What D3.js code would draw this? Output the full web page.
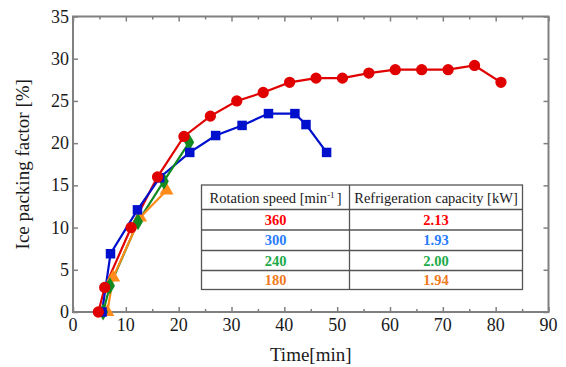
<!DOCTYPE html>
<html>
<head>
<meta charset="utf-8">
<script src="https://cdn.jsdelivr.net/npm/d3@7"></script>
<style>
  body { margin: 0; background: #fff; }
  svg { display: block; }
  svg text { font-family: "Liberation Serif", "Times New Roman", "DejaVu Serif", serif; }
</style>
</head>
<body>
<svg id="chart" width="566" height="367"></svg>
<script>
// data
const red360 = [[4.8,0],[6,2.9],[11,10],[16,16],[21,20.8],[26,23.2],[31,25],[36,26],[41,27.2],[46,27.7],[51,27.7],[56,28.3],[61,28.7],[66,28.7],[71,28.7],[76,29.2],[81,27.2]];
const blue300 = [[5.5,0],[7.1,6.9],[12.2,12.1],[16.4,15.9],[22.1,18.9],[27,20.9],[32,22.1],[37,23.5],[42,23.5],[44.1,22.2],[48,18.9]];
const green240 = [[5.7,0],[7,3.1],[12.3,10.7],[17.2,15.5],[22,20.1]];
const orange180 = [[6.5,0],[7.6,4.1],[12.7,11.2],[17.7,14.4]];

const speeds = ['360', '300', '240', '180'];
const capacities = ['2.13', '1.93', '2.00', '1.94'];
const xTicks = [0, 10, 20, 30, 40, 50, 60, 70, 80, 90];
const yTicks = [0, 5, 10, 15, 20, 25, 30, 35];

const series = [
  { data: red360, color: '#e00000', shape: d3.symbolCircle, size: 100 },
  { data: blue300, color: '#0010cc', shape: d3.symbolSquare, size: 90 },
  { data: green240, color: '#118a22', shape: d3.symbolDiamond, size: 85 },
  { data: orange180, color: '#ff8c1a', shape: d3.symbolTriangle, size: 85 }
];
const textColors = ['#ff0000', '#2a7cff', '#1caa4a', '#f07a1e'];

const svg = d3.select('#chart');
const plotL = 73, plotR = 548.5, plotT = 16.5, plotB = 312;

const x = d3.scaleLinear().domain([0, 90]).range([plotL, plotR]);
const y = d3.scaleLinear().domain([0, 35]).range([plotB, plotT]);

const frameColor = '#808080';

// ticks (inward)
const minorX = d3.range(5, 90, 10);
svg.append('g').attr('transform', `translate(0,${plotB})`)
  .call(d3.axisBottom(x).tickValues(xTicks).tickSize(-5).tickFormat(''))
  .call(g => g.select('.domain').remove());
svg.append('g').attr('transform', `translate(0,${plotB})`)
  .call(d3.axisBottom(x).tickValues(minorX).tickSize(-3).tickFormat(''))
  .call(g => g.select('.domain').remove());
svg.append('g').attr('transform', `translate(0,${plotT})`)
  .call(d3.axisTop(x).tickValues(xTicks).tickSize(-5).tickFormat(''))
  .call(g => g.select('.domain').remove());
svg.append('g').attr('transform', `translate(0,${plotT})`)
  .call(d3.axisTop(x).tickValues(minorX).tickSize(-3).tickFormat(''))
  .call(g => g.select('.domain').remove());
svg.append('g').attr('transform', `translate(${plotL},0)`)
  .call(d3.axisLeft(y).tickValues(yTicks).tickSize(-5).tickFormat(''))
  .call(g => g.select('.domain').remove());
svg.append('g').attr('transform', `translate(${plotR},0)`)
  .call(d3.axisRight(y).tickValues(yTicks).tickSize(-5).tickFormat(''))
  .call(g => g.select('.domain').remove());
svg.selectAll('.tick line').attr('stroke', frameColor).attr('stroke-width', 1.5);

// frame
svg.append('rect')
  .attr('x', plotL).attr('y', plotT)
  .attr('width', plotR - plotL).attr('height', plotB - plotT)
  .attr('fill', 'none').attr('stroke', frameColor).attr('stroke-width', 2);

// tick labels
svg.append('g').selectAll('text').data(xTicks).join('text')
  .attr('x', d => x(d)).attr('y', plotB + 19)
  .attr('text-anchor', 'middle').attr('font-size', 18).attr('fill', '#1a1a1a')
  .text(d => d);
svg.append('g').selectAll('text').data(yTicks).join('text')
  .attr('x', plotL - 4).attr('y', d => y(d) + 6)
  .attr('text-anchor', 'end').attr('font-size', 18).attr('fill', '#1a1a1a')
  .text(d => d);

// axis titles
svg.append('text')
  .attr('x', (plotL + plotR) / 2).attr('y', 361)
  .attr('text-anchor', 'middle').attr('font-size', 19).attr('fill', '#1a1a1a')
  .text('Time[min]');
svg.append('text')
  .attr('transform', `translate(29,${(plotT + plotB) / 2}) rotate(-90)`)
  .attr('text-anchor', 'middle').attr('font-size', 19).attr('fill', '#1a1a1a')
  .text('Ice packing factor [%]');

// lines and markers
const line = d3.line().x(d => x(d[0])).y(d => y(d[1]));
series.forEach(s => {
  svg.append('path').datum(s.data)
    .attr('d', line).attr('fill', 'none')
    .attr('stroke', s.color).attr('stroke-width', 2.2);
});
series.slice().reverse().forEach(s => {
  svg.append('g').selectAll('path').data(s.data).join('path')
    .attr('transform', d => `translate(${x(d[0])},${y(d[1])})`)
    .attr('d', d3.symbol().type(s.shape).size(s.size))
    .attr('fill', s.color);
});

// table
const tLeft = 201.5, tRight = 522.5, tMid = 349.5;
const rowsY = [185, 209.5, 230, 250.5, 270.5, 289.5];
const table = svg.append('g');
table.append('rect')
  .attr('x', tLeft).attr('y', rowsY[0])
  .attr('width', tRight - tLeft).attr('height', rowsY[5] - rowsY[0])
  .attr('fill', '#fff').attr('stroke', '#555').attr('stroke-width', 1.3);
table.selectAll('line.row').data(rowsY.slice(1, 5)).join('line')
  .attr('x1', tLeft).attr('x2', tRight).attr('y1', d => d).attr('y2', d => d)
  .attr('stroke', '#555').attr('stroke-width', 1.3);
table.append('line')
  .attr('x1', tMid).attr('x2', tMid).attr('y1', rowsY[0]).attr('y2', rowsY[5])
  .attr('stroke', '#555').attr('stroke-width', 1.3);

const h1 = table.append('text')
  .attr('x', (tLeft + tMid) / 2).attr('y', 203)
  .attr('text-anchor', 'middle').attr('font-size', 14.5).attr('fill', '#1a1a1a');
h1.append('tspan').text('Rotation speed [min');
h1.append('tspan').attr('dy', -5).attr('font-size', 9).text('-1');
h1.append('tspan').attr('dx', 2).attr('dy', 5).text(']');
table.append('text')
  .attr('x', (tMid + tRight) / 2).attr('y', 203)
  .attr('text-anchor', 'middle').attr('font-size', 14.5).attr('fill', '#1a1a1a')
  .text('Refrigeration capacity [kW]');

speeds.forEach((sp, i) => {
  const cy = (rowsY[i + 1] + rowsY[i + 2]) / 2 + 5;
  table.append('text')
    .attr('x', (tLeft + tMid) / 2).attr('y', cy)
    .attr('text-anchor', 'middle').attr('font-size', 14.5).attr('font-weight', 'bold')
    .attr('fill', textColors[i]).text(sp);
  table.append('text')
    .attr('x', (tMid + tRight) / 2).attr('y', cy)
    .attr('text-anchor', 'middle').attr('font-size', 14.5).attr('font-weight', 'bold')
    .attr('fill', textColors[i]).text(capacities[i]);
});
</script>
</body>
</html>
